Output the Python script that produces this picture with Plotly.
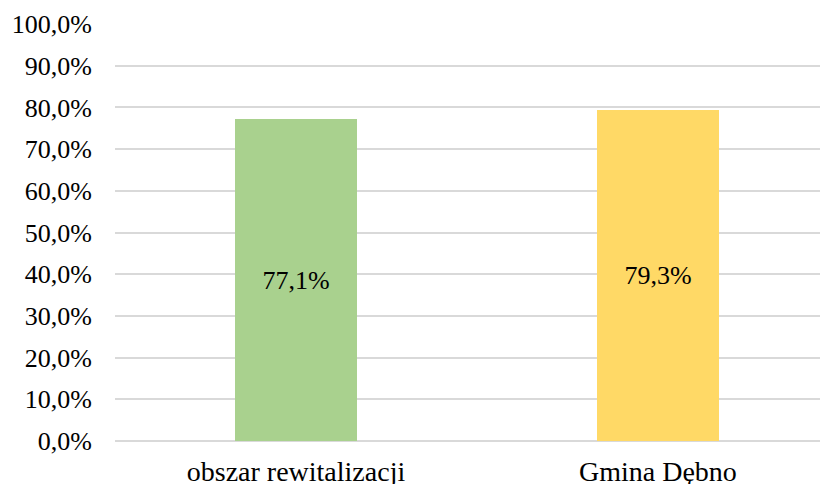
import plotly.graph_objects as go

categories = ["obszar rewitalizacji", "Gmina Dębno"]
values = [77.1, 79.3]
colors = ["#A9D18E", "#FFD966"]
tick_vals = [0, 10, 20, 30, 40, 50, 60, 70, 80, 90, 100]
tick_text = [f"{v:.1f}".replace(".", ",") + "%" for v in tick_vals]

fig = go.Figure()
fig.add_trace(go.Bar(
    x=[0, 1], y=values, width=0.337,
    marker=dict(color=colors, line=dict(width=0)),
    text=[f"{v:.1f}".replace(".", ",") + "%" for v in values],
    textposition="inside", insidetextanchor="middle",
    textfont=dict(family="Liberation Serif", size=26, color="#000000"),
    cliponaxis=False,
))

fig.update_layout(
    width=828, height=484,
    margin=dict(l=107, r=0, t=16, b=51),
    paper_bgcolor="white", plot_bgcolor="white",
    font=dict(family="Liberation Serif", size=26, color="#000000"),
    showlegend=False,
    bargap=0,
)
fig.update_xaxes(
    tickmode="array", tickvals=[0, 1], ticktext=categories,
    range=[-0.5, 1.492], showgrid=False, showline=False, zeroline=False,
    ticks="", ticklabelstandoff=11, automargin=False,
    tickfont=dict(family="Liberation Serif", size=28, color="#000000"),
)
fig.update_yaxes(
    range=[0, 100], tickmode="array", tickvals=tick_vals, ticktext=tick_text,
    showgrid=True, gridcolor="#D9D9D9", gridwidth=2,
    zeroline=True, zerolinecolor="#D9D9D9", zerolinewidth=2,
    showline=False, ticks="", ticklabelstandoff=22, automargin=False,
)

fig.write_html("out.html")
